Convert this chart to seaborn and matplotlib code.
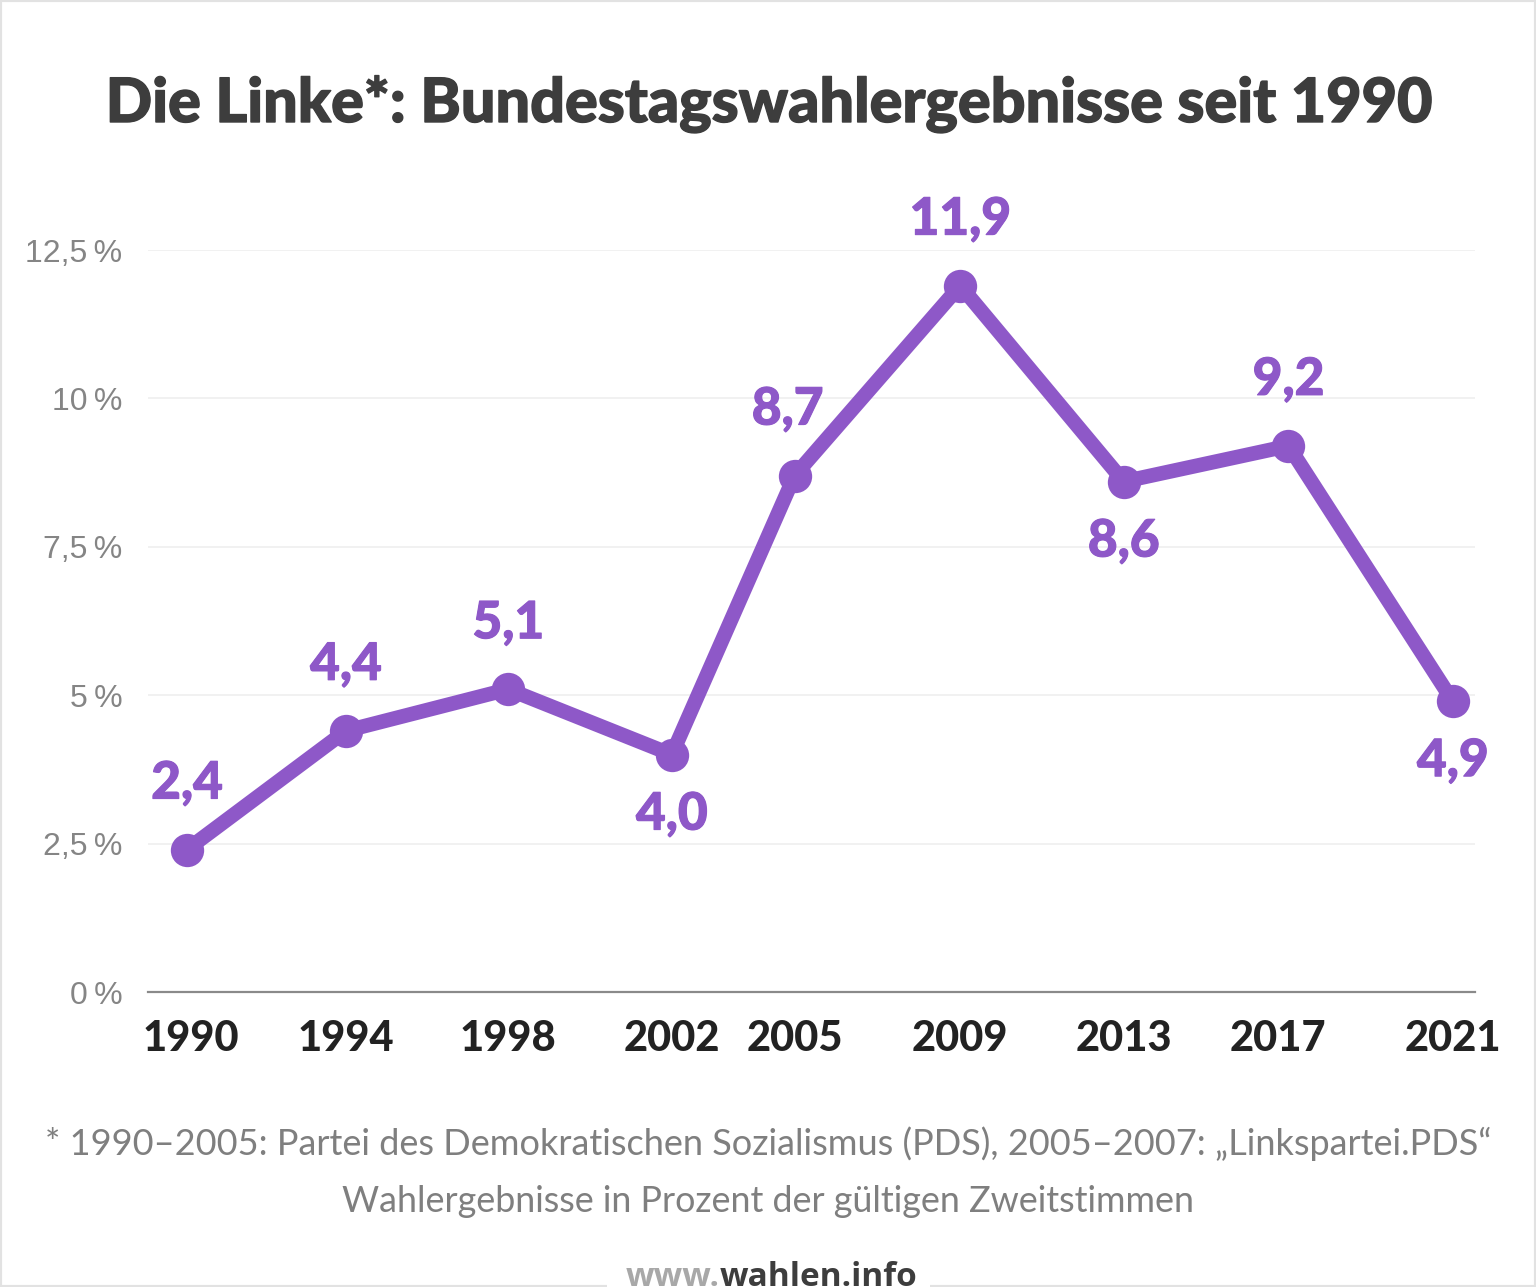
import matplotlib
matplotlib.use('Agg')
import matplotlib.pyplot as plt
import matplotlib.patheffects as pe
from matplotlib.patches import Rectangle
import pandas as pd
import seaborn as sns

# Wahlergebnisse, x = Wahltermin als Dezimaljahr
election_dates = [1990.92, 1994.79, 1998.74, 2002.72, 2005.71, 2009.74, 2013.72, 2017.73, 2021.73]
results = [2.4, 4.4, 5.1, 4.0, 8.7, 11.9, 8.6, 9.2, 4.9]
value_labels = ['2,4', '4,4', '5,1', '4,0', '8,7', '11,9', '8,6', '9,2', '4,9']
label_above = [True, True, True, False, True, True, False, True, False]
year_ticks = [1991.02, 1994.79, 1998.74, 2002.72, 2005.71, 2009.74, 2013.72, 2017.46, 2021.73]
year_labels = ['1990', '1994', '1998', '2002', '2005', '2009', '2013', '2017', '2021']
y_ticks = [0, 2.5, 5, 7.5, 10, 12.5]
y_tick_labels = ['0\u2009%', '2,5\u2009%', '5\u2009%', '7,5\u2009%', '10\u2009%', '12,5\u2009%']

purple = '#8e58c8'
W, H = 1536, 1287

df = pd.DataFrame({'date': election_dates, 'result': results})

sns.set_theme(style='white')
plt.rcParams['font.family'] = ['Lato', 'DejaVu Sans']

fig = plt.figure(figsize=(W / 100, H / 100), dpi=100, facecolor='white')
ax = fig.add_axes([148 / W, 1 - 992 / H, (1475 - 148) / W, (992 - 250) / H])

sns.lineplot(data=df, x='date', y='result', ax=ax, color=purple, linewidth=10.5,
             marker='o', markersize=24, markeredgewidth=0, solid_joinstyle='miter', clip_on=False)

ax.set_xlim(1989.97, 2022.27)
ax.set_ylim(0, 12.5)
ax.set_xlabel('')
ax.set_ylabel('')
ax.set_yticks(y_ticks)
ax.set_yticklabels(y_tick_labels, fontsize=23, color='#858585', family='Liberation Sans')
ax.set_xticks(year_ticks)
ax.set_xticklabels(year_labels, fontsize=30, color='#222222', fontweight='black')
ax.tick_params(axis='both', length=0)
ax.tick_params(axis='y', pad=18.5)
ax.tick_params(axis='x', pad=20)
ax.grid(axis='y', color='#efefef', linewidth=1.2)
ax.grid(axis='x', visible=False)
ax.set_axisbelow(True)
sns.despine(ax=ax, left=True)
ax.spines['bottom'].set_color('#8a8a8a')
ax.spines['bottom'].set_linewidth(1.6)

bolder = [pe.withStroke(linewidth=0.8, foreground=purple)]
for date, value, text, above in zip(election_dates, results, value_labels, label_above):
    offset = (42, 'bottom') if above else (-37, 'top')
    # 8,7 sitzt links neben der Linie
    dx = -7 if text == '8,7' else 0
    ax.annotate(text, (date, value), xytext=(dx, offset[0]), textcoords='offset pixels',
                ha='center', va=offset[1], fontsize=37, fontweight='black', color=purple,
                path_effects=bolder)

fig.text(769 / W, 1 - 122 / H, 'Die Linke*: Bundestagswahlergebnisse seit 1990', ha='center', va='baseline',
         fontsize=44, fontweight='black', color='#3d3d3d',
         path_effects=[pe.withStroke(linewidth=1.0, foreground='#3d3d3d')])
fig.text(768 / W, 1 - 1144 / H, '* 1990–2005: Partei des Demokratischen Sozialismus (PDS), 2005–2007: „Linkspartei.PDS“',
         ha='center', va='center', fontsize=26, color='#7f7f7f')
fig.text(768 / W, 1 - 1201 / H, 'Wahlergebnisse in Prozent der gültigen Zweitstimmen', ha='center', va='center',
         fontsize=25.8, color='#7f7f7f')

# Rahmen, unten fuer die URL unterbrochen
fig.add_artist(Rectangle((0, 0), 1, 1, transform=fig.transFigure, fill=False, edgecolor='#e2e2e2', linewidth=3))
fig.add_artist(Rectangle((607 / W, 0), 323 / W, 6 / H, transform=fig.transFigure, facecolor='white', edgecolor='none'))

fig.text(720 / W, 1 - 1286 / H, 'www.', ha='right', va='baseline', fontsize=24, fontweight='bold',
         color='#a8a8a8', family='Open Sans')
fig.text(720 / W, 1 - 1286 / H, 'wahlen.info', ha='left', va='baseline', fontsize=24, fontweight='bold',
         color='#3d3d3d', family='Open Sans')

fig.savefig('out.png', dpi=100)
